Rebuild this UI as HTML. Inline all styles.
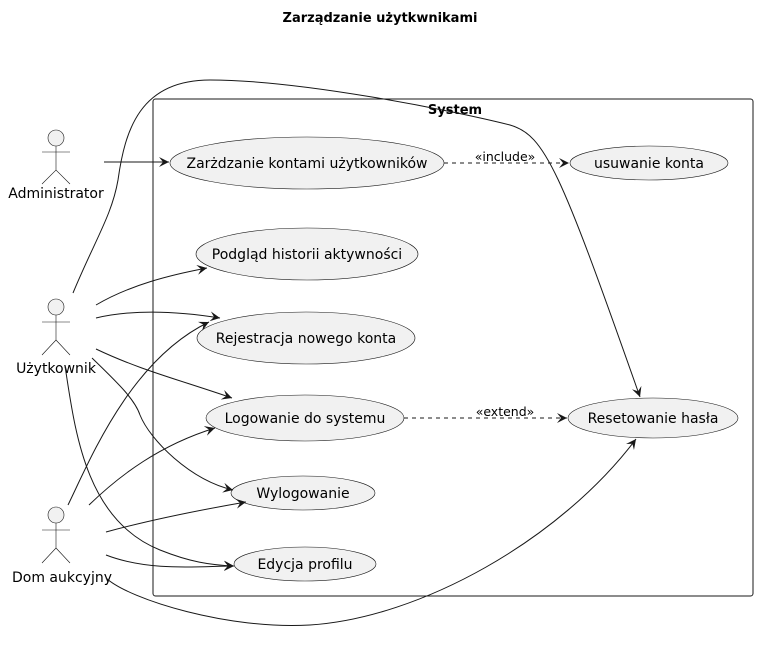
<!DOCTYPE html>
<html><head><meta charset="utf-8"><style>body{margin:0;background:#fff}svg{display:block}text{font-family:"DejaVu Sans","Liberation Sans",sans-serif}</style></head><body>
<svg width="759" height="647" xmlns="http://www.w3.org/2000/svg">
<defs><marker id="a" markerWidth="12" markerHeight="10" refX="10" refY="5" orient="auto" markerUnits="userSpaceOnUse"><path d="M0,0 L10,5 L0,10 L4,5 Z" fill="#181818"/></marker></defs>
<text x="380" y="22" font-size="13" font-weight="bold" text-anchor="middle">Zarządzanie użytkwnikami</text>
<rect x="153" y="99" width="600" height="497" rx="2.5" fill="none" stroke="#181818" stroke-width="1"/>
<text x="455" y="114" font-size="13" font-weight="bold" text-anchor="middle">System</text>
<g fill="#f1f1f1" stroke="#181818" stroke-width="0.6">
<ellipse cx="307" cy="163" rx="137" ry="26"/>
<ellipse cx="649" cy="163" rx="79" ry="17"/>
<ellipse cx="307" cy="254" rx="111" ry="26"/>
<ellipse cx="306" cy="338" rx="109" ry="26"/>
<ellipse cx="305" cy="418" rx="99" ry="23"/>
<ellipse cx="653" cy="418" rx="85" ry="20"/>
<ellipse cx="303" cy="493" rx="72" ry="17"/>
<ellipse cx="305" cy="564" rx="71" ry="17"/>
</g>
<g font-size="14" text-anchor="middle" fill="#000">
<text x="307" y="168">Zarżdzanie kontami użytkowników</text>
<text x="649" y="168">usuwanie konta</text>
<text x="307" y="259">Podgląd historii aktywności</text>
<text x="306" y="343">Rejestracja nowego konta</text>
<text x="305" y="423">Logowanie do systemu</text>
<text x="653" y="423">Resetowanie hasła</text>
<text x="303" y="498">Wylogowanie</text>
<text x="305" y="569">Edycja profilu</text>
<text x="56" y="198">Administrator</text>
<text x="56" y="373">Użytkownik</text>
<text x="62" y="582">Dom aukcyjny</text>
<text x="505" y="161" font-size="12.5">«include»</text>
<text x="505" y="416" font-size="12.5">«extend»</text>
</g>
<g fill="#f1f1f1" stroke="#181818" stroke-width="0.6">
<circle cx="56" cy="138" r="8"/><path d="M56,146V170M42,152H70M42,184L56,170L70,184" fill="none"/>
<circle cx="56" cy="307" r="8"/><path d="M56,315V340M42,322H70M42,355L56,340L70,355" fill="none"/>
<circle cx="56" cy="515" r="8"/><path d="M56,523V548M42,530H70M42,563L56,548L70,563" fill="none"/>
</g>
<g fill="none" stroke="#181818" stroke-width="1" marker-end="url(#a)">
<path d="M104,162H169"/>
<path d="M73,293 C95,240 112,215 118,180 C125,130 140,80 210,80 C300,80 450,110 510,125 C545,135 560,170 640,397"/>
<path d="M96,305 C130,285 170,275 207,268"/>
<path d="M96,318 C130,310 170,310 220,318"/>
<path d="M96,349 C140,370 180,380 232,398"/>
<path d="M92,358 C120,385 135,400 140,415 C150,440 190,480 233,490"/>
<path d="M65,366 C75,430 85,520 160,550 C190,562 210,565 234,566"/>
<path d="M68,505 C90,460 130,360 209,322"/>
<path d="M89,505 C120,475 160,445 215,428"/>
<path d="M106,532 C150,520 200,510 246,502"/>
<path d="M106,555 C150,572 200,566 234,566"/>
<path d="M106,578 C130,600 230,630 310,625 C420,618 560,540 636,439"/>
</g>
<g fill="none" stroke="#181818" stroke-width="1" stroke-dasharray="4,4" marker-end="url(#a)">
<path d="M444,163H569"/>
<path d="M404,418H567"/>
</g>
</svg>
</body></html>
